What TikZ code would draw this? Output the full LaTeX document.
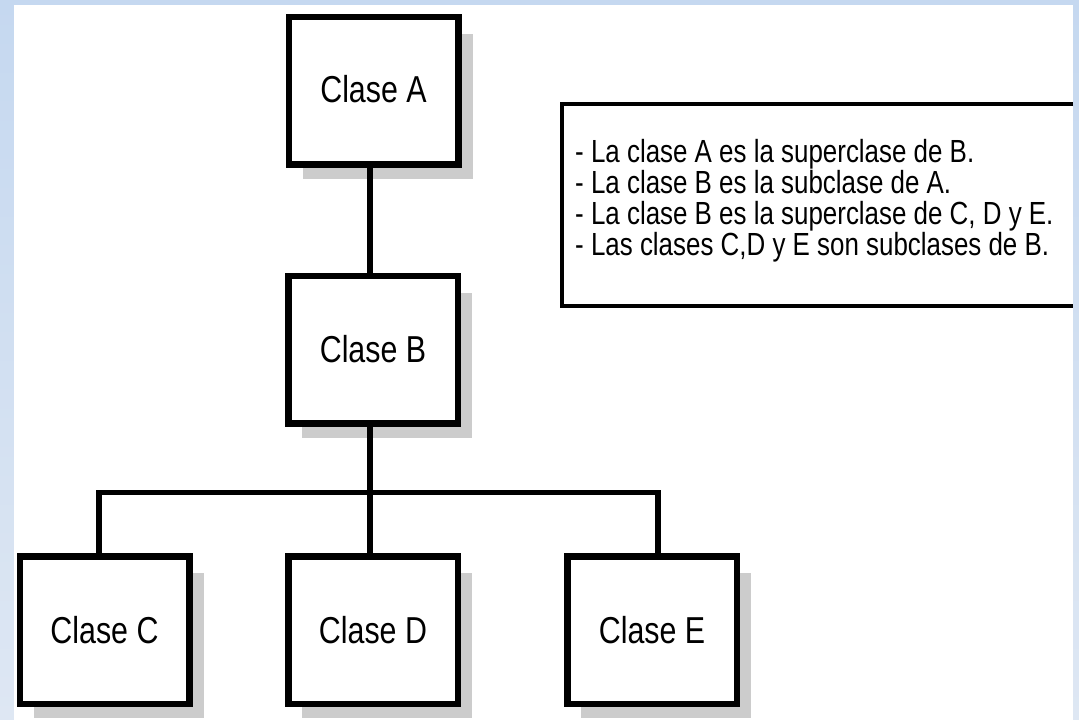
\documentclass[tikz,border=0pt]{standalone}
\usepackage{fontspec}
\setmainfont{Liberation Sans}
\newfontfamily\boxfont[FakeStretch=0.81]{Liberation Sans}
\usetikzlibrary{calc}
\definecolor{bgtop}{RGB}{197,216,240}
\definecolor{bgbot}{RGB}{222,231,243}
\definecolor{shadowgray}{RGB}{204,204,204}
\pgfdeclarelayer{bgzero}
\pgfdeclarelayer{bgone}
\pgfsetlayers{bgzero,bgone,main}
\tikzset{
  classbox/.style={draw=black, fill=white, line width=6.5pt, inner sep=0pt,
    minimum width=169.5pt, minimum height=147.5pt,
    font=\boxfont\fontsize{37.5}{40}\selectfont},
  conn/.style={draw=black, line width=5.5pt},
  legendtext/.style={inner sep=0pt, align=left, anchor=north west,
    font=\boxfont\fontsize{32}{31}\selectfont},
  legendframe/.style={draw=black, line width=3.5pt},
  boxshadow/.style={fill=shadowgray}
}
\begin{document}
\begin{tikzpicture}[x=1pt,y=-1pt]
\useasboundingbox (0,0) rectangle (1079,720);
% background
\begin{pgfonlayer}{bgzero}
\shade[top color=bgtop, bottom color=bgbot] (0,0) rectangle (1079,720);
\fill[white] (14,5) rectangle (1073,720);
\end{pgfonlayer}

% boxes
\node[classbox] (A) at (373.5,90.5) {\raisebox{3pt}{Clase A}};
\node[classbox] (B) at (373,349.5) {\raisebox{2pt}{Clase B}};
\node[classbox] (C) at (104.5,630) {Clase C};
\node[classbox] (D) at (373,630) {Clase D};
\node[classbox] (E) at (652,630) {Clase E};

% shadows (behind boxes)
\begin{pgfonlayer}{bgone}
\foreach \n in {A,B,C,D,E}{
  \fill[boxshadow] ($(\n.north west)+(17,20)$) rectangle ($(\n.south east)+(11,11)$);
}
\end{pgfonlayer}

% connectors
\coordinate (bar) at (0,492.5);
\coordinate (cx) at ($(C.north)+(-5.5,0)$);
\coordinate (ex) at ($(E.north)+(6,0)$);
\coordinate (dx) at ($(D.north)+(-3,0)$);
\draw[conn] ($(A.south)+(-3.5,0)$) -- ($(B.north)+(-3,0)$);
\draw[conn] ($(B.south)+(-3,0)$) -- (dx |- bar);
\draw[conn] (cx) |- (ex |- bar) -- (ex);
\draw[conn] (dx) -- (dx |- bar);

% legend
\node[legendtext] (L) at (575,139) {- La clase A es la superclase de B.\\
- La clase B es la subclase de A.\\
- La clase B es la superclase de C, D y E.\\
- Las clases C,D y E son subclases de B.};
\draw[legendframe] (1073,103.75) -- (561.75,103.75) -- (561.75,305.75) -- (1073,305.75);
\end{tikzpicture}
\end{document}
